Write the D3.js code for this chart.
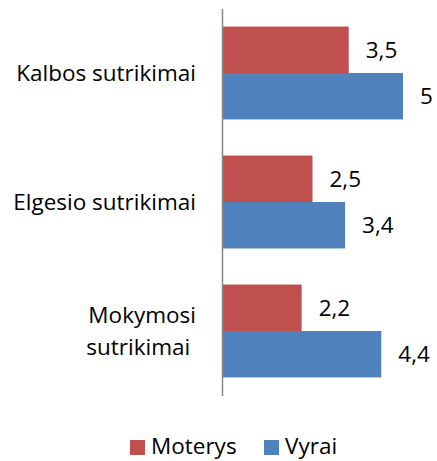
<!DOCTYPE html>
<html><head><meta charset="utf-8">
<script src="https://cdn.jsdelivr.net/npm/d3@7/dist/d3.min.js"></script>
<style>body{margin:0;background:#fff}svg{display:block}</style>
</head><body>
<script>
const categories = ["Kalbos sutrikimai", "Elgesio sutrikimai", "Mokymosi sutrikimai"];
const categoryLines = [["Kalbos sutrikimai"], ["Elgesio sutrikimai"], ["Mokymosi", "sutrikimai "]];
const seriesNames = ["Moterys", "Vyrai"];
const moterys = [3.5, 2.5, 2.2];
const vyrai = [5, 3.4, 4.4];
const colors = ["#C0504D", "#4F81BD"];

const W = 437, H = 461;
const font = "'Open Sans', sans-serif";
const fs = 22.5;
const svg = d3.select("body").append("svg").attr("width", W).attr("height", H);

const x = d3.scaleLinear().domain([0, 5]).range([222, 403]);
const y = d3.scaleBand().domain(categories).range([8.5, 395.5]).paddingInner(0.28).paddingOuter(0.14);
const ySub = d3.scaleBand().domain(seriesNames).range([0, y.bandwidth()]);

const data = categories.map((c, i) => ({cat: c, vals: [moterys[i], vyrai[i]]}));

const g = svg.append("g");
data.forEach((d, i) => {
  d.vals.forEach((v, s) => {
    g.append("rect")
      .attr("x", x(0)).attr("y", y(d.cat) + ySub(seriesNames[s]))
      .attr("width", x(v) - x(0)).attr("height", ySub.bandwidth())
      .attr("fill", colors[s]);
    g.append("text")
      .attr("x", x(v) + 17).attr("y", y(d.cat) + ySub(seriesNames[s]) + ySub.bandwidth() / 2 + 2)
      .attr("dominant-baseline", "middle")
      .attr("font-family", font).attr("font-size", fs).attr("fill", "#000")
      .text(String(v).replace(".", ","));
  });
});

// axis
const axis = d3.axisLeft(d3.scaleBand().domain(categories).range([8.5, 395.5])).tickSize(0).tickFormat("");
const ax = svg.append("g").attr("transform", `translate(${x(0)},0)`).call(axis);
ax.select(".domain").attr("stroke", "#868686").attr("stroke-width", 1.5);

// category labels
data.forEach((d, i) => {
  const lines = categoryLines[i];
  const cy = y(d.cat) + y.bandwidth() / 2;
  const lh = 32;
  lines.forEach((t, j) => {
    svg.append("text")
      .attr("x", 196).attr("y", cy + (j - (lines.length - 1) / 2) * lh + 2)
      .attr("text-anchor", "end").attr("dominant-baseline", "middle")
      .attr("xml:space", "preserve").style("white-space", "pre")
      .attr("font-family", font).attr("font-size", fs).attr("fill", "#000")
      .text(t);
  });
});

// legend
const legX = [130, 264];
seriesNames.forEach((n, s) => {
  svg.append("rect").attr("x", legX[s]).attr("y", 440).attr("width", 15).attr("height", 15).attr("fill", colors[s]);
  svg.append("text").attr("x", legX[s] + 21).attr("y", 454)
    .attr("font-family", font).attr("font-size", fs).attr("fill", "#000").text(n);
});
</script>
</body></html>
